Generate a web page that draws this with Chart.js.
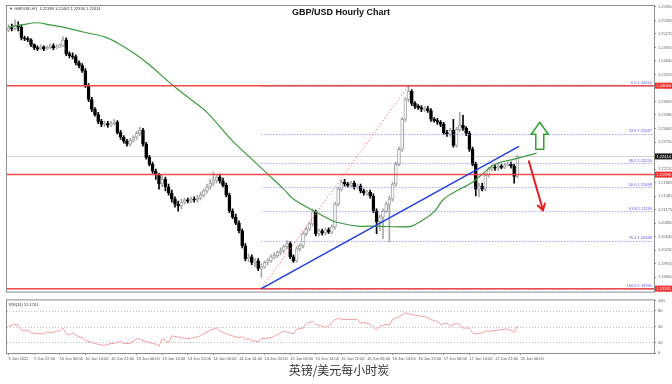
<!DOCTYPE html>
<html><head><meta charset="utf-8">
<script src="https://cdn.jsdelivr.net/npm/chart.js@4.4.1/dist/chart.umd.min.js"></script>
<style>
html,body{margin:0;padding:0;background:#fff;width:672px;height:384px;overflow:hidden}
#main{position:absolute;left:0;top:0;width:672px;height:296px}
#rsi{position:absolute;left:0;top:296px;width:672px;height:70px}
#cap{position:absolute;left:3px;width:672px;top:362px;line-height:16px;text-align:center;font-size:12px;font-family:"Noto Sans CJK SC",sans-serif;color:#333}
</style></head><body>
<canvas id="main" width="672" height="296"></canvas>
<canvas id="rsi" width="672" height="70"></canvas>
<div id="cap">英镑/美元每小时炭</div>
<script>
// ---------- DATA ----------
const opens = [1.2536,1.2541,1.2539,1.2546,1.2543,1.2518,1.2516,1.2513,1.2502,1.2495,
1.2492,1.2497,1.2492,1.2495,1.2499,1.2495,1.2497,1.2499,1.2513,1.2481,
1.2476,1.2474,1.2460,1.2453,1.2441,1.2406,1.2374,1.2351,1.2339,1.2323,
1.2316,1.2318,1.2314,1.2318,1.2321,1.2297,1.2286,1.2277,1.2270,1.2279,
1.2286,1.2295,1.2302,1.2270,1.2239,1.2223,1.2207,1.2198,1.2177,1.2188,
1.2170,1.2156,1.2142,1.2130,1.2126,1.2135,1.2140,1.2137,1.2142,1.2140,
1.2144,1.2151,1.2161,1.2170,1.2179,1.2186,1.2193,1.2184,1.2174,1.2151,
1.2114,1.2100,1.2086,1.2068,1.2033,1.2003,1.2007,1.1994,1.1998,1.1980,
1.1984,1.1994,1.1998,1.2007,1.2010,1.2017,1.2021,1.2031,1.2038,1.2007,
1.1998,1.2026,1.2033,1.2061,1.2072,1.2084,1.2112,1.2061,1.2068,1.2063,
1.2070,1.2065,1.2077,1.2130,1.2165,1.2181,1.2177,1.2174,1.2179,1.2170,
1.2172,1.2161,1.2156,1.2158,1.2149,1.2114,1.2089,1.2100,1.2114,1.2130,
1.2142,1.2177,1.2223,1.2258,1.2328,1.2374,1.2393,1.2365,1.2358,1.2355,
1.2351,1.2353,1.2348,1.2328,1.2325,1.2321,1.2316,1.2297,1.2293,1.2302,
1.2267,1.2304,1.2314,1.2307,1.2295,1.2258,1.2223,1.2165,1.2172,1.2165,
1.2198,1.2212,1.2216,1.2214,1.2219,1.2216,1.2221,1.2223,1.2219,1.2195];
const closes = [1.2541,1.2539,1.2546,1.2543,1.2518,1.2516,1.2513,1.2502,1.2495,1.2492,
1.2497,1.2492,1.2495,1.2499,1.2495,1.2497,1.2499,1.2513,1.2481,1.2476,
1.2474,1.2460,1.2453,1.2441,1.2406,1.2374,1.2351,1.2339,1.2323,1.2316,
1.2318,1.2314,1.2318,1.2321,1.2297,1.2286,1.2277,1.2270,1.2279,1.2286,
1.2295,1.2302,1.2270,1.2239,1.2223,1.2207,1.2198,1.2177,1.2188,1.2170,
1.2156,1.2142,1.2130,1.2126,1.2135,1.2140,1.2137,1.2142,1.2140,1.2144,
1.2151,1.2161,1.2170,1.2179,1.2186,1.2193,1.2184,1.2174,1.2151,1.2114,
1.2100,1.2086,1.2068,1.2033,1.2003,1.2007,1.1994,1.1998,1.1980,1.1984,
1.1994,1.1998,1.2007,1.2010,1.2017,1.2021,1.2031,1.2038,1.2007,1.1998,
1.2026,1.2033,1.2061,1.2072,1.2084,1.2112,1.2061,1.2068,1.2063,1.2070,
1.2065,1.2077,1.2130,1.2165,1.2181,1.2177,1.2174,1.2179,1.2170,1.2172,
1.2161,1.2156,1.2158,1.2149,1.2114,1.2089,1.2100,1.2114,1.2130,1.2142,
1.2177,1.2223,1.2258,1.2328,1.2374,1.2393,1.2365,1.2358,1.2355,1.2351,
1.2353,1.2348,1.2328,1.2325,1.2321,1.2316,1.2297,1.2293,1.2302,1.2267,
1.2304,1.2314,1.2307,1.2295,1.2258,1.2223,1.2165,1.2172,1.2165,1.2198,
1.2212,1.2216,1.2214,1.2219,1.2216,1.2221,1.2223,1.2219,1.2195,1.2241];
const highs = [1.2548,1.2550,1.2560,1.2555,1.2548,1.2522,1.2520,1.2516,1.2504,1.2499,
1.2502,1.2499,1.2499,1.2504,1.2504,1.2502,1.2504,1.2520,1.2518,1.2485,
1.2483,1.2478,1.2464,1.2458,1.2446,1.2411,1.2379,1.2355,1.2344,1.2328,
1.2323,1.2323,1.2323,1.2328,1.2325,1.2302,1.2290,1.2281,1.2284,1.2290,
1.2300,1.2309,1.2307,1.2274,1.2244,1.2228,1.2212,1.2202,1.2198,1.2193,
1.2177,1.2163,1.2147,1.2137,1.2142,1.2144,1.2144,1.2147,1.2147,1.2151,
1.2158,1.2165,1.2177,1.2188,1.2205,1.2198,1.2200,1.2191,1.2179,1.2156,
1.2119,1.2107,1.2091,1.2072,1.2038,1.2014,1.2012,1.2003,1.2003,1.1991,
1.1998,1.2003,1.2012,1.2017,1.2021,1.2028,1.2035,1.2045,1.2042,1.2012,
1.2031,1.2038,1.2065,1.2077,1.2089,1.2119,1.2116,1.2072,1.2072,1.2075,
1.2075,1.2082,1.2135,1.2170,1.2186,1.2188,1.2181,1.2184,1.2184,1.2177,
1.2177,1.2165,1.2163,1.2163,1.2154,1.2119,1.2105,1.2119,1.2135,1.2149,
1.2181,1.2228,1.2263,1.2332,1.2379,1.2406,1.2397,1.2369,1.2362,1.2360,
1.2358,1.2358,1.2353,1.2332,1.2330,1.2325,1.2321,1.2302,1.2307,1.2328,
1.2309,1.2344,1.2337,1.2311,1.2300,1.2263,1.2228,1.2179,1.2179,1.2202,
1.2216,1.2221,1.2221,1.2223,1.2223,1.2225,1.2228,1.2228,1.2223,1.2244];
const lows = [1.2532,1.2534,1.2536,1.2534,1.2513,1.2511,1.2509,1.2497,1.2490,1.2488,
1.2490,1.2488,1.2490,1.2492,1.2490,1.2492,1.2495,1.2497,1.2476,1.2471,
1.2469,1.2455,1.2448,1.2437,1.2402,1.2369,1.2346,1.2335,1.2318,1.2311,
1.2311,1.2309,1.2311,1.2314,1.2293,1.2281,1.2272,1.2265,1.2265,1.2274,
1.2281,1.2290,1.2265,1.2235,1.2219,1.2202,1.2188,1.2165,1.2170,1.2161,
1.2151,1.2135,1.2123,1.2114,1.2119,1.2130,1.2133,1.2133,1.2135,1.2135,
1.2140,1.2147,1.2156,1.2165,1.2174,1.2179,1.2179,1.2170,1.2147,1.2110,
1.2096,1.2082,1.2063,1.2028,1.1998,1.1996,1.1989,1.1984,1.1975,1.1959,
1.1980,1.1989,1.1994,1.2003,1.2005,1.2012,1.2017,1.2026,1.2003,1.1994,
1.1994,1.2021,1.2028,1.2056,1.2068,1.2079,1.2056,1.2056,1.2058,1.2058,
1.2061,1.2061,1.2072,1.2126,1.2161,1.2172,1.2170,1.2170,1.2165,1.2165,
1.2156,1.2151,1.2151,1.2144,1.2110,1.2061,1.2068,1.2049,1.2110,1.2042,
1.2137,1.2172,1.2219,1.2253,1.2323,1.2369,1.2360,1.2353,1.2351,1.2346,
1.2346,1.2344,1.2323,1.2321,1.2316,1.2311,1.2293,1.2288,1.2288,1.2263,
1.2263,1.2300,1.2302,1.2290,1.2253,1.2219,1.2149,1.2147,1.2161,1.2161,
1.2193,1.2207,1.2209,1.2209,1.2212,1.2212,1.2219,1.2214,1.2179,1.2191];

// moving average (green) read at sample bars
const maIdx = [0,4,9,13,18,23,30,34,39,44,51,57,62,70,75,81,86,89,96,100,102,109,115,123,126,129,133,136,141,145,148,152,158,165];
const maVals = [1.2543,1.2548,1.2553,1.2548,1.2541,1.2532,1.2520,1.2506,1.2483,1.2455,1.2409,1.2374,1.2344,1.2277,1.2242,1.2200,1.2165,1.2142,1.2112,1.2096,1.2089,1.2079,1.2079,1.2077,1.2079,1.2091,1.2112,1.2142,1.2165,1.2181,1.2200,1.2223,1.2235,1.2249];

// RSI(14) read at sample bars
const rsiIdx = [0,2,3,4,5,6,7,9,11,12,14,15,16,17,18,19,20,22,23,24,26,28,30,32,33,35,36,38,40,41,43,45,46,47,48,49,50,51,54,56,58,60,61,63,65,66,68,70,72,73,74,75,76,78,79,82,84,86,88,89,90,92,93,95,96,97,99,100,101,102,103,105,108,109,110,111,113,114,115,116,118,119,120,122,123,124,126,128,130,132,134,135,137,138,140,141,142,144,145,146,148,149,151,153,155,156,158,159];
const rsiVals = [50.9,54.5,52.7,43.6,41.8,43.6,38.2,36.4,36.4,40,
38.2,41.8,41.8,47.3,36.4,34.5,38.2,30.9,29.1,23.6,
20,16.4,14.5,18.2,18.2,21.8,18.2,18.2,27.3,25.5,
21.8,18.2,16.4,12.7,27.3,23.6,20,32.7,29.1,27.3,
29.1,32.7,36.4,43.6,47.3,41.8,36.4,32.7,29.1,30.9,
25.5,27.3,23.6,21.8,27.3,29.1,34.5,41.8,38.2,36.4,
45.5,47.3,56.4,60,54.5,52.7,49.1,50.9,58.2,63.6,
65.5,63.6,63.6,63.6,56.4,58.2,54.5,49.1,43.6,50.9,
54.5,52.7,63.6,69.1,72.7,76.4,72.7,70.9,69.1,63.6,
60,54.5,56.4,50.9,56.4,54.5,47.3,47.3,38.2,36.4,
38.2,41.8,41.8,43.6,45.5,45.5,40,51.2];
const rsiCurrent = '51.1701';
const rsiLevels = [80,50,20];
const rsiTicks = [0,20,50,80,100];

const timeLabels = ['9 Jun 2022','9 Jun 22:00','10 Jun 06:00','10 Jun 14:00','10 Jun 22:00','13 Jun 06:00','13 Jun 14:00','13 Jun 22:00','14 Jun 06:00','14 Jun 14:00','14 Jun 22:00','15 Jun 06:00','15 Jun 14:00','15 Jun 22:00','16 Jun 06:00','16 Jun 14:00','16 Jun 22:00','17 Jun 06:00','17 Jun 14:00','17 Jun 22:00','20 Jun 06:00'];
const labelIdx = [0,8,16,24,32,40,48,56,64,72,80,88,96,104,112,120,128,136,144,152,160];
const priceTicks = [1.25900,1.25585,1.25270,1.24955,1.24640,1.24325,1.24010,1.23695,1.23380,1.23065,1.22750,1.22435,1.22120,1.21805,1.21490,1.21175,1.20860,1.20545,1.20230,1.19915,1.19600,1.19285];

const fibLevels = ['0.0','23.6','38.2','50.0','61.8','76.4','100.0'];
const fibPrices = [1.24064,1.22947,1.22256,1.21698,1.21139,1.20448,1.19331];
const fibFromIdx = 79, fibToIdx = 125;
const redLines = [1.24064,1.21990,1.19331];
const bidPrice = 1.22414;
const trendIdx = [79,159.5], trendPrice = [1.19331,1.2265];
const upArrow = {idx:166, tip:1.2321, neck:1.2293, tail:1.2258};
const downArrow = {fromIdx:162.6, fromPrice:1.2230, toIdx:167, toPrice:1.2116};
const xMin = -0.5, xMax = 201.7;
const yMin = 1.19262, yMax = 1.25921;

// ---------- helpers ----------
function seg(ctx,x1,y1,x2,y2){ctx.beginPath();ctx.moveTo(x1,y1);ctx.lineTo(x2,y2);ctx.stroke();}
const isBull = i => closes[i] >= opens[i];
const SMALL = '4px "Liberation Sans"';

const mainDeco = {
  id:'mainDeco',
  beforeDatasetsDraw(chart){
    const {ctx, chartArea:a, scales:{y}} = chart;
    ctx.save();
    ctx.strokeStyle='#d2d2d2'; ctx.lineWidth=1;
    const yy=Math.round(y.getPixelForValue(bidPrice))+0.5;
    seg(ctx,a.left,yy,a.right,yy);
    ctx.restore();
  },
  afterDatasetsDraw(chart){
    const {ctx, chartArea:a, scales:{x,y}} = chart;
    ctx.save();
    ctx.lineWidth=1; ctx.strokeStyle='#7d7df2'; ctx.setLineDash([1,2]);
    const fx=x.getPixelForValue(fibFromIdx);
    fibPrices.forEach(p=>{const yy=Math.round(y.getPixelForValue(p))+0.5; seg(ctx,fx,yy,a.right,yy);});
    ctx.strokeStyle='#f07878'; ctx.setLineDash([1.5,2]);
    seg(ctx,x.getPixelForValue(fibFromIdx),y.getPixelForValue(fibPrices[6]),x.getPixelForValue(fibToIdx),y.getPixelForValue(fibPrices[0]));
    ctx.setLineDash([]);
    ctx.strokeStyle='#f24848'; ctx.lineWidth=1.5;
    redLines.forEach(p=>{const yy=y.getPixelForValue(p); seg(ctx,a.left,yy,a.right,yy);});
    ctx.strokeStyle='#1e3ee2'; ctx.lineWidth=1.5;
    seg(ctx,x.getPixelForValue(trendIdx[0]),y.getPixelForValue(trendPrice[0]),x.getPixelForValue(trendIdx[1]),y.getPixelForValue(trendPrice[1]));
    // green up arrow (hollow)
    const gx=x.getPixelForValue(upArrow.idx), gt=y.getPixelForValue(upArrow.tip), gn=y.getPixelForValue(upArrow.neck), gb=y.getPixelForValue(upArrow.tail);
    ctx.beginPath(); ctx.moveTo(gx,gt); ctx.lineTo(gx+8.5,gn); ctx.lineTo(gx+4,gn); ctx.lineTo(gx+4,gb); ctx.lineTo(gx-4,gb); ctx.lineTo(gx-4,gn); ctx.lineTo(gx-8.5,gn); ctx.closePath();
    ctx.fillStyle='#fff'; ctx.fill(); ctx.strokeStyle='#2ea32e'; ctx.lineWidth=1.5; ctx.stroke();
    // red down arrow
    const x1=x.getPixelForValue(downArrow.fromIdx), y1=y.getPixelForValue(downArrow.fromPrice), x2=x.getPixelForValue(downArrow.toIdx), y2=y.getPixelForValue(downArrow.toPrice);
    ctx.strokeStyle='#e61e1e'; ctx.lineWidth=2; ctx.lineCap='round';
    seg(ctx,x1,y1,x2,y2);
    const ang=Math.atan2(y2-y1,x2-x1);
    seg(ctx,x2,y2,x2-7*Math.cos(ang-0.55),y2-7*Math.sin(ang-0.55));
    seg(ctx,x2,y2,x2-7*Math.cos(ang+0.55),y2-7*Math.sin(ang+0.55));
    ctx.restore();
  },
  afterDraw(chart){
    const {ctx, chartArea:a, scales:{y}} = chart;
    ctx.save();
    ctx.strokeStyle='#8c8c8c'; ctx.lineWidth=1;
    ctx.strokeRect(a.left-0.5,a.top-0.5,a.right-a.left+1,a.bottom-a.top+1);
    ctx.font=SMALL; ctx.textBaseline='middle'; ctx.textAlign='left';
    redLines.forEach(p=>{const yy=y.getPixelForValue(p); ctx.fillStyle='#f03030'; ctx.fillRect(a.right+1,yy-3,17,6); ctx.fillStyle='#fff'; ctx.fillText(p.toFixed(5),a.right+2.5,yy+0.3);});
    const by=y.getPixelForValue(bidPrice);
    ctx.fillStyle='#1c1c1c'; ctx.fillRect(a.right+1,by-3,17,6); ctx.fillStyle='#fff'; ctx.fillText(bidPrice.toFixed(5),a.right+2.5,by+0.3);
    // fib labels
    ctx.fillStyle='#5a5af0'; ctx.textAlign='right'; ctx.textBaseline='bottom';
    fibPrices.forEach((p,i)=>{ctx.fillText(fibLevels[i]+' '+p.toFixed(5),a.right-2,y.getPixelForValue(p)-0.5);});
    // title
    ctx.fillStyle='#111'; ctx.textAlign='center'; ctx.textBaseline='alphabetic';
    ctx.font='bold 9px "Liberation Sans"';
    ctx.fillText('GBP/USD Hourly Chart',341,15);
    ctx.font=SMALL; ctx.textAlign='left'; ctx.fillStyle='#333';
    ctx.fillText('\u25BC GBPUSD,H1  1.22389 1.22402 1.22330 1.22414',9,9.5);
    ctx.restore();
  }
};

new Chart(document.getElementById('main'), {
  type:'bar',
  data:{datasets:[
    {type:'line', data: maIdx.map((v,i)=>({x:v,y:maVals[i]})), borderColor:'#3a9c3a', borderWidth:1.2, pointRadius:0, tension:0.35, order:0},
    {data: opens.map((o,i)=>({x:i,y:[o,closes[i]]})), grouped:false, barThickness:3, borderSkipped:false, borderWidth:1,
      backgroundColor: c=>isBull(c.dataIndex)?'#ffffff':'#000000', borderColor: c=>isBull(c.dataIndex)?'#a4a4a4':'#000000', order:1},
    {data: lows.map((l,i)=>({x:i,y:[l,highs[i]]})), grouped:false, barThickness:1, borderWidth:0,
      backgroundColor: c=>isBull(c.dataIndex)?'#a8a8a8':'#000000', order:2}
  ]},
  options:{
    responsive:false, animation:false, devicePixelRatio:1,
    layout:{padding:{left:7,top:6,right:0,bottom:3}},
    plugins:{legend:{display:false}, tooltip:{enabled:false}},
    scales:{
      x:{type:'linear', min:xMin, max:xMax, offset:false, display:false},
      y:{position:'right', min:yMin, max:yMax,
        afterFit(s){s.width=18;},
        afterBuildTicks(s){s.ticks=priceTicks.map(v=>({value:v}));},
        ticks:{autoSkip:false, font:{size:4, family:'Liberation Sans'}, color:'#666', padding:2, callback:v=>Number(v).toFixed(5)},
        grid:{drawOnChartArea:false, tickLength:2, color:'#999'}, border:{color:'#8c8c8c'}}
    }
  },
  plugins:[mainDeco]
});

const rsiDeco = {
  id:'rsiDeco',
  beforeDatasetsDraw(chart){
    const {ctx, chartArea:a, scales:{y}} = chart;
    ctx.save(); ctx.strokeStyle='#bdbdbd'; ctx.lineWidth=1; ctx.setLineDash([1,2]);
    rsiLevels.forEach(v=>{const yy=Math.round(y.getPixelForValue(v))+0.5; seg(ctx,a.left,yy,a.right,yy);});
    ctx.restore();
  },
  afterDraw(chart){
    const {ctx, chartArea:a} = chart;
    ctx.save();
    ctx.strokeStyle='#8c8c8c'; ctx.lineWidth=1;
    ctx.strokeRect(a.left-0.5,a.top-0.5,a.right-a.left+1,a.bottom-a.top+1);
    ctx.fillStyle='#333'; ctx.font=SMALL; ctx.textBaseline='middle';
    ctx.fillText('RSI(14) '+rsiCurrent,9,a.top+4.5);
    ctx.restore();
  }
};

new Chart(document.getElementById('rsi'), {
  type:'line',
  data:{datasets:[{data: rsiIdx.map((v,i)=>({x:v,y:rsiVals[i]})), borderColor:'#f4a0a0', borderWidth:1, pointRadius:0, tension:0}]},
  options:{
    responsive:false, animation:false, devicePixelRatio:1,
    layout:{padding:{left:7,top:2,right:0,bottom:0}},
    plugins:{legend:{display:false}, tooltip:{enabled:false}},
    scales:{
      x:{type:'linear', min:xMin, max:xMax, offset:false,
        afterFit(s){s.height=13;},
        afterBuildTicks(s){s.ticks=labelIdx.map(v=>({value:v}));},
        ticks:{autoSkip:false, maxRotation:0, align:'start', font:{size:4, family:'Liberation Sans'}, color:'#555', padding:1, callback:(v,i)=>timeLabels[i]},
        grid:{drawOnChartArea:false, tickLength:2, color:'#999'}, border:{color:'#8c8c8c'}},
      y:{position:'right', min:0, max:100,
        afterFit(s){s.width=18;},
        afterBuildTicks(s){s.ticks=rsiTicks.map(v=>({value:v}));},
        ticks:{autoSkip:false, font:{size:4, family:'Liberation Sans'}, color:'#555', padding:2},
        grid:{drawOnChartArea:false, tickLength:2, color:'#999'}, border:{color:'#8c8c8c'}}
    }
  },
  plugins:[rsiDeco]
});
</script>
</body></html>
